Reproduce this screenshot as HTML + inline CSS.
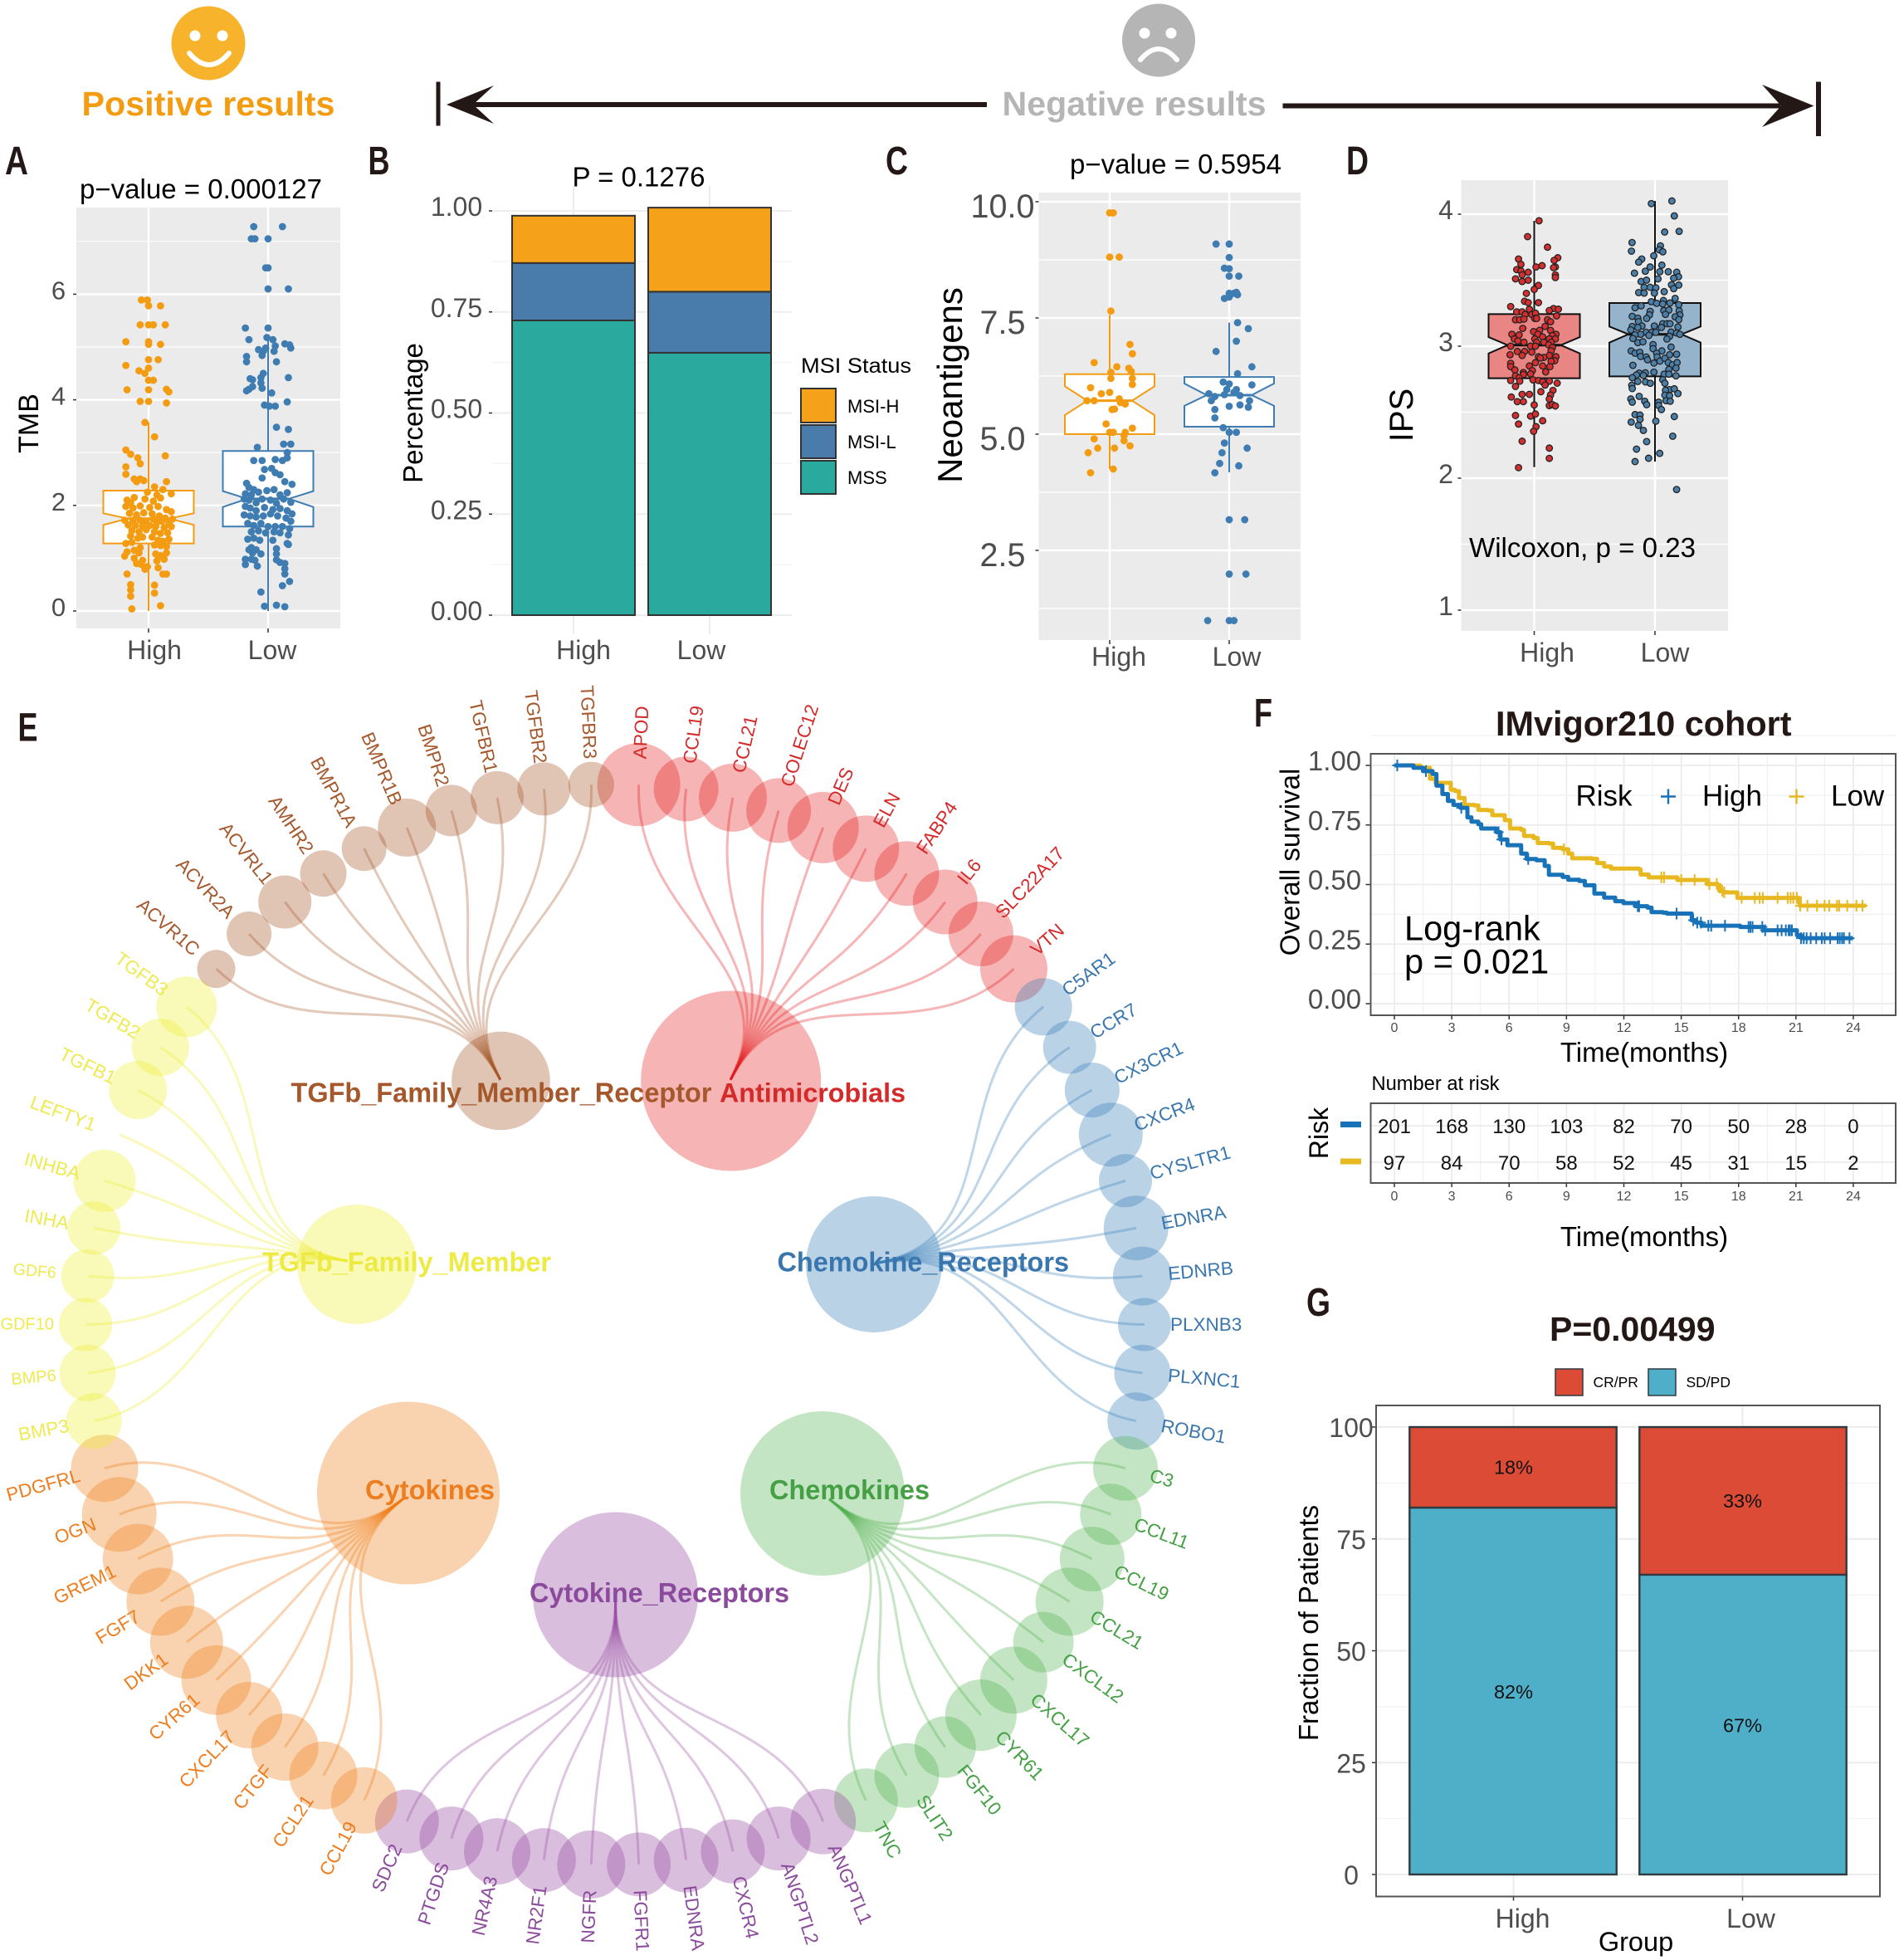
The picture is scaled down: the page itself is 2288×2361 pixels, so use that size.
<!DOCTYPE html>
<html lang="en"><head><meta charset="utf-8"><title>Multi-panel immunotherapy figure</title>
<style>
html,body{margin:0;padding:0;background:#fff}
svg{display:block}
text{font-family:"Liberation Sans",Arial,sans-serif}
</style></head>
<body>
<svg id="fig" xmlns="http://www.w3.org/2000/svg" width="2288" height="2361" viewBox="0 0 2288 2361">
<rect x="0" y="0" width="2288" height="2361" fill="#fff"/>

<g>
<g>
<circle cx="251" cy="52" r="44.5" fill="#f7b32b"/><circle cx="235" cy="43" r="6.5" fill="#fff"/><circle cx="268" cy="43" r="6.5" fill="#fff"/>
<path d="M228 64Q252 92 276 64" fill="none" stroke="#fff" stroke-width="6" stroke-linecap="round"/></g>
<text x="98.5" y="139" font-size="41" font-weight="700" fill="#f39c12" textLength="305" lengthAdjust="spacingAndGlyphs">Positive results</text>
<g>
<circle cx="1396" cy="48.5" r="44" fill="#b5b5b5"/><circle cx="1379" cy="40" r="6.5" fill="#fff"/><circle cx="1411" cy="40" r="6.5" fill="#fff"/>
<path d="M1374 72Q1396 46 1418 72" fill="none" stroke="#fff" stroke-width="6" stroke-linecap="round"/></g>
<text x="1207.5" y="139" font-size="41" font-weight="700" fill="#b5b5b5" textLength="318" lengthAdjust="spacingAndGlyphs">Negative results</text>
<g fill="#231815">
<rect x="525.5" y="98.5" width="5" height="53"/><rect x="565" y="123" width="624" height="6"/><path d="M538 126L595 103L570 126L595 149Z"/></g>
<g fill="#231815">
<rect x="2188" y="98.5" width="6" height="65.5"/><rect x="1545.5" y="124.5" width="600" height="6"/><path d="M2185.5 127.5L2123 102L2146 127.5L2123 153Z"/></g>
</g>

<g font-weight="700" fill="#231815" font-size="48">
<text x="6" y="210" textLength="28" lengthAdjust="spacingAndGlyphs">A</text>
<text x="443.5" y="210" textLength="26" lengthAdjust="spacingAndGlyphs">B</text>
<text x="1067" y="210" textLength="27" lengthAdjust="spacingAndGlyphs">C</text>
<text x="1622" y="210" textLength="27" lengthAdjust="spacingAndGlyphs">D</text>
<text x="21.5" y="892.5" textLength="24" lengthAdjust="spacingAndGlyphs">E</text>
<text x="1511" y="875" textLength="22" lengthAdjust="spacingAndGlyphs">F</text>
<text x="1574" y="1585" textLength="29" lengthAdjust="spacingAndGlyphs">G</text>
</g>

<g id="panelA"></g>
<g id="panelB"></g>
<g id="panelC"></g>
<g id="panelD"></g>
<g id="panelE"></g>
<g id="panelF"></g>
<g id="panelG"></g>

<g id="labels" fill="#000">
<text x="96" y="239" font-size="33" textLength="292" lengthAdjust="spacingAndGlyphs">p−value = 0.000127</text>
<text transform="translate(46,510) rotate(-90)" text-anchor="middle" font-size="34">TMB</text>
<text x="689.5" y="224.5" font-size="33" textLength="160" lengthAdjust="spacingAndGlyphs">P = 0.1276</text>
<text transform="translate(509,497.5) rotate(-90)" text-anchor="middle" font-size="33">Percentage</text>
<text x="965" y="449" font-size="25" textLength="133" lengthAdjust="spacingAndGlyphs">MSI Status</text>
<rect x="965" y="468" width="42" height="41" fill="#f5a11a" stroke="#333" stroke-width="2"/>
<rect x="965" y="512" width="42" height="40" fill="#4a7cab" stroke="#333" stroke-width="2"/>
<rect x="965" y="555" width="42" height="40" fill="#2aa99f" stroke="#333" stroke-width="2"/>
<text x="1021" y="497" font-size="22">MSI-H</text>
<text x="1021" y="540" font-size="22">MSI-L</text>
<text x="1021" y="583" font-size="22">MSS</text>
<text x="1289" y="209" font-size="33" textLength="255" lengthAdjust="spacingAndGlyphs">p−value = 0.5954</text>
<text transform="translate(1159,464) rotate(-90)" text-anchor="middle" font-size="42">Neoantigens</text>
<text transform="translate(1702,500) rotate(-90)" text-anchor="middle" font-size="40">IPS</text>
<text x="1770" y="671" font-size="33" textLength="273" lengthAdjust="spacingAndGlyphs">Wilcoxon, p = 0.23</text>

<text x="1802" y="886" font-size="41.4" font-weight="700" fill="#231815">IMvigor210 cohort</text>
<text transform="translate(1565.5,1038.5) rotate(-90)" text-anchor="middle" font-size="33">Overall survival</text>
<text x="1981" y="1279" text-anchor="middle" font-size="33">Time(months)</text>
<text x="1898.5" y="970.5" font-size="35">Risk</text>
<text x="2051" y="970.5" font-size="35">High</text>
<text x="2206" y="970.5" font-size="35">Low</text>
<text x="1692" y="1132.5" font-size="41.5">Log-rank</text>
<text x="1692" y="1172.5" font-size="41.5">p = 0.021</text>
<text x="1652.5" y="1313" font-size="23.7">Number at risk</text>
<text transform="translate(1600,1365) rotate(-90)" text-anchor="middle" font-size="32">Risk</text>
<text x="1981" y="1501" text-anchor="middle" font-size="33">Time(months)</text>

<text x="1867" y="1615" font-size="41" font-weight="700" fill="#231815">P=0.00499</text>
<text x="1919.5" y="1671" font-size="17.5">CR/PR</text>
<text x="2031.5" y="1671" font-size="17.5">SD/PD</text>
<rect x="1874" y="1649" width="33" height="32" fill="#dc4b36" stroke="#2f3b40" stroke-width="1.5"/>
<rect x="1986" y="1649" width="33" height="32" fill="#4fafc9" stroke="#2f3b40" stroke-width="1.5"/>
<text transform="translate(1588,1955) rotate(-90)" text-anchor="middle" font-size="33">Fraction of Patients</text>
<text x="1971" y="2350" text-anchor="middle" font-size="32.5">Group</text>
</g>

<g id="hubLabels" font-weight="700">
<text x="350.5" y="1327.5" font-size="33" fill="#a5582c" textLength="507" lengthAdjust="spacingAndGlyphs">TGFb_Family_Member_Receptor</text>
<text x="867" y="1327.5" font-size="32" fill="#d42a2a" textLength="224" lengthAdjust="spacingAndGlyphs">Antimicrobials</text>
<text x="316" y="1531.5" font-size="33" fill="#eeea44" textLength="348" lengthAdjust="spacingAndGlyphs">TGFb_Family_Member</text>
<text x="936.5" y="1531.5" font-size="33" fill="#3a76ae" textLength="351.5" lengthAdjust="spacingAndGlyphs">Chemokine_Receptors</text>
<text x="440" y="1806" font-size="33" fill="#ed7d1f" textLength="156" lengthAdjust="spacingAndGlyphs">Cytokines</text>
<text x="927" y="1806" font-size="33" fill="#45a045" textLength="193" lengthAdjust="spacingAndGlyphs">Chemokines</text>
<text x="638" y="1930" font-size="33" fill="#8b4a9c" textLength="313" lengthAdjust="spacingAndGlyphs">Cytokine_Receptors</text>
</g>
</svg>

<script>
/* ===== Panel A data: [jitter, TMB] ===== */
const tmbTicks=[0,2,4,6];
const tmbMinor=[1,3,5,7];
const tmbHighBox=[0,1.28,1.63,1.75,1.85,2.28,3.57];
const tmbLowBox=[0,1.6,1.97,2.125,2.27,3.03,5.16];
const tmbHigh=[[-.06,5.89],[-.01,5.89],[0,5.78],[.1,5.78],[-.07,5.42],[0,5.42],[.04,5.42],[.14,5.42],[-.19,5.1],[0,5.1],[0,5.05],[.1,5.05],[0,4.76],[.08,4.76],[-.19,4.65],[0,4.6],[-.08,4.55],[-.03,4.5],[0,4.37],[.04,4.37],[-.18,4.19],[0,4.19],[.15,4.2],[.17,4.15],[-.07,3.97],[0,3.97],[.15,3.94],[-.03,3.57],[.05,3.3],[-.19,3.05],[-.15,2.97],[-.09,2.9],[-.07,2.79],[.14,2.94],[-.19,2.73],[-.19,2.59],[-.12,2.5],[-.07,2.5],[-.1,2.45],[-.04,2.47],[.15,2.45],[.05,2.35],[.12,2.3],[-.01,2.25],[.07,2.2],[.19,2.22],[-.12,2.15],[-.18,2.1],[-.15,2.05],[-.03,2.12],[.04,2.08],[.1,2.14],[-.19,1.98],[-.13,1.95],[-.07,1.99],[.01,1.96],[.08,1.98],[.15,1.92],[.19,1.88],[-.16,1.85],[-.1,1.82],[-.04,1.86],[.03,1.84],[.09,1.8],[.14,1.76],[.2,1.74],[-.2,1.72],[-.13,1.72],[-.07,1.72],[-.02,1.7],[.04,1.74],[.07,1.68],[.11,1.7],[.17,1.66],[-.17,1.63],[-.11,1.62],[-.05,1.6],[.01,1.62],[.06,1.6],[.13,1.58],[.19,1.6],[-.14,1.52],[-.08,1.5],[-.02,1.54],[.05,1.5],[.1,1.47],[.16,1.48],[-.15,1.42],[-.09,1.38],[-.05,1.4],[.03,1.4],[.08,1.34],[.12,1.32],[.17,1.36],[-.19,1.28],[-.14,1.3],[-.07,1.2],[.05,1.25],[.1,1.24],[.15,1.22],[-.18,1.12],[-.12,1.15],[-.08,1.1],[.06,1.08],[.1,1.05],[.15,1.1],[-.2,1.04],[-.12,1.0],[-.05,.96],[.07,.95],[.13,.98],[-.1,.9],[-.06,.88],[-.01,.84],[-.03,.79],[.08,.82],[-.18,.7],[.12,.7],[.15,.7],[-.15,.5],[-.15,.4],[-.15,.28],[.05,.49],[.05,.34],[.1,.1],[-.14,.04]];
const tmbLow=[[-.12,7.28],[.12,7.28],[-.14,7.05],[-.11,7.05],[0,7.05],[-.02,6.5],[0,6.5],[0,6.1],[.17,6.1],[-.19,5.36],[0,5.36],[-.16,5.14],[-.01,5.18],[.04,5.14],[.14,5.06],[.18,5.04],[.19,4.98],[.06,5.02],[-.08,4.95],[-.04,4.92],[-.02,4.98],[.05,4.92],[-.18,4.82],[-.18,4.72],[.07,4.72],[-.05,4.84],[-.04,4.5],[-.06,4.42],[-.15,4.4],[-.13,4.38],[-.06,4.32],[.17,4.42],[-.16,4.2],[-.18,4.17],[-.13,4.25],[-.05,4.22],[.03,4.13],[-.03,3.9],[.01,3.88],[.06,3.88],[.16,3.96],[.07,3.48],[.17,3.44],[-.09,3.1],[.13,3.16],[.19,3.16],[.16,3.0],[-.12,2.85],[-.05,2.85],[.06,2.87],[.12,2.85],[.16,2.9],[-.03,2.68],[.03,2.7],[.06,2.62],[.1,2.58],[-.05,2.52],[.14,2.45],[.2,2.4],[-.18,2.42],[-.16,2.34],[-.12,2.3],[-.19,2.22],[-.14,2.2],[-.08,2.25],[-.01,2.28],[.05,2.3],[.1,2.2],[.16,2.24],[-.2,2.12],[-.16,2.1],[-.1,2.05],[-.05,2.12],[.02,2.1],[.07,2.04],[.13,2.12],[.19,2.06],[-.19,1.98],[-.15,1.95],[-.1,1.9],[-.03,1.96],[.04,1.92],[.1,1.94],[.16,1.9],[.2,1.84],[-.2,1.82],[-.15,1.8],[-.1,1.78],[-.04,1.8],[.02,1.84],[.08,1.8],[.15,1.76],[.19,1.7],[-.17,1.66],[-.12,1.62],[-.06,1.66],[0,1.6],[.06,1.6],[.12,1.6],[.18,1.56],[-.14,1.5],[-.08,1.52],[-.02,1.48],[.05,1.5],[.1,1.48],[.17,1.44],[-.17,1.36],[-.12,1.38],[-.07,1.34],[.04,1.34],[.16,1.28],[.17,1.26],[-.14,1.2],[-.16,1.16],[-.1,1.16],[-.13,1.1],[-.06,1.08],[.07,1.18],[.07,1.08],[-.19,.98],[-.14,.98],[-.11,.96],[.07,.97],[.1,.92],[.14,.9],[-.19,.88],[-.09,.85],[.14,.8],[.14,.7],[.18,.56],[.12,.48],[-.06,.36],[-.03,.09],[.07,.11],[.14,.08]];

/* ===== Panel B data ===== */
const msiGroups=['High','Low'];
const msiTicks=[0,.25,.5,.75,1];
const msiTickLabels=['0.00','0.25','0.50','0.75','1.00'];
const msiMinor=[.125,.375,.625,.875];
const msiMss=[.729,.649];
const msiL=[.142,.151];
const msiH=[.117,.208];

/* ===== Panel C data: [jitter, neoantigens] ===== */
const neoTicks=[2.5,5,7.5,10];
const neoTickLabels=['2.5','5.0','7.5','10.0'];
const neoMinor=[1.25,3.75,6.25,8.75];
const neoHighBox=[4.25,5.0,5.41,5.72,6.03,6.29,7.57];
const neoLowBox=[4.18,5.16,5.61,5.84,6.09,6.23,7.4];
const neoHigh=[[0,9.76],[.03,9.76],[0,8.81],[.08,8.81],[.01,7.65],[.17,6.93],[.19,6.73],[-.13,6.54],[.06,6.45],[.16,6.42],[.18,6.35],[.01,6.33],[.01,6.2],[.19,6.2],[.19,6.07],[-.16,6.0],[0,5.9],[-.07,5.87],[.08,5.76],[-.19,5.72],[-.13,5.72],[.09,5.68],[.13,5.65],[.02,5.53],[.04,5.54],[-.03,5.22],[.19,5.13],[0,5.04],[.03,5.04],[.13,5.04],[.12,4.97],[-.13,4.9],[.12,4.86],[.17,4.75],[-.1,4.7],[.04,4.7],[-.18,4.6],[.03,4.25],[-.16,4.17]];
const neoLow=[[-.11,9.09],[0,9.09],[0,8.8],[-.04,8.57],[0,8.56],[0,8.4],[.08,8.4],[.06,8.05],[0,8.03],[.04,8.03],[.07,8.0],[-.04,7.92],[0,7.95],[.07,7.4],[.16,7.27],[.06,7.0],[-.11,6.78],[.19,6.45],[.07,6.3],[-.05,6.12],[0,6.08],[.19,6.06],[-.02,5.96],[.06,5.96],[.04,5.9],[-.17,5.87],[-.04,5.85],[.09,5.83],[-.12,5.81],[-.15,5.72],[.17,5.72],[0,5.6],[.09,5.63],[.16,5.58],[-.12,5.53],[-.12,5.35],[-.05,5.14],[0,5.04],[.06,5.04],[-.04,4.81],[.15,4.7],[-.06,4.6],[-.08,4.37],[.08,4.32],[-.12,4.17],[0,3.16],[.13,3.16],[0,1.99],[.14,1.99],[-.18,.99],[0,.99],[.04,.99]];

/* ===== Panel D data: [jitter, IPS] ===== */
const ipsTicks=[1,2,3,4];
const ipsMinor=[1.5,2.5,3.5];
const ipsHighBox=[2.084,2.757,2.945,3.008,3.069,3.243,3.95];
const ipsLowBox=[2.126,2.771,3.027,3.09,3.149,3.327,4.1];
const ipsHigh=[[.04,3.95],[-.055,3.83],[.11,3.75],[-.13,3.66],[.195,3.67],[.165,3.65],[-.11,3.62],[.015,3.6],[.065,3.61],[-.145,3.58],[-.11,3.57],[.175,3.6],[.16,3.595],[-.05,3.56],[-.1,3.54],[.175,3.54],[.175,3.52],[-.155,3.51],[-.1,3.49],[-.05,3.5],[.035,3.46],[0,3.43],[-.065,3.4],[-.08,3.34],[-.05,3.33],[.035,3.33],[-.195,3.3],[-.04,3.28],[.16,3.285],[.2,3.28],[.125,3.27],[-.145,3.26],[-.1,3.26],[-.02,3.24],[.01,3.25],[-.075,3.24],[.185,3.23],[-.155,3.2],[-.12,3.2],[-.085,3.205],[.005,3.21],[.02,3.21],[.11,3.2],[.135,3.185],[.09,3.15],[-.095,3.135],[.135,3.12],[.045,3.12],[-.005,3.11],[.03,3.09],[.18,3.09],[-.185,3.09],[-.125,3.085],[.07,3.07],[.15,3.08],[.005,3.055],[.125,3.055],[.175,3.055],[-.165,3.055],[-.135,3.04],[-.085,3.03],[.02,3.03],[.08,3.03],[.14,3.03],[-.195,3],[-.03,3],[.01,3],[.12,3.01],[.15,2.99],[-.14,2.96],[-.08,2.96],[-.02,2.955],[.14,2.965],[-.2,2.935],[-.1,2.93],[.125,2.93],[.035,2.92],[.08,2.915],[.05,2.91],[.18,2.92],[.17,2.89],[.01,2.875],[.14,2.885],[-.195,2.87],[-.195,2.845],[-.04,2.85],[.07,2.85],[.13,2.845],[-.16,2.82],[-.015,2.815],[.095,2.805],[-.09,2.8],[-.03,2.79],[-.155,2.775],[-.09,2.785],[-.125,2.76],[-.195,2.74],[-.01,2.745],[.035,2.74],[.07,2.73],[.125,2.735],[-.12,2.735],[.09,2.705],[.19,2.72],[-.155,2.695],[.155,2.665],[.055,2.655],[-.1,2.635],[-.04,2.635],[-.19,2.615],[.135,2.63],[.125,2.6],[-.14,2.58],[-.09,2.58],[.125,2.55],[0,2.555],[.15,2.557],[.175,2.547],[-.155,2.475],[-.03,2.47],[.01,2.486],[.07,2.435],[-.13,2.41],[.015,2.39],[-.005,2.355],[-.1,2.28],[.125,2.228],[.125,2.15],[-.13,2.08]];
const ipsLow=[[-.03,4.08],[.14,4.1],[.16,3.987],[.08,3.865],[.2,3.87],[-.19,3.785],[-.195,3.72],[.045,3.76],[.035,3.73],[.065,3.715],[-.01,3.685],[-.11,3.66],[-.135,3.637],[.057,3.614],[-.04,3.6],[-.08,3.568],[-.17,3.553],[.04,3.564],[.11,3.564],[.18,3.56],[.195,3.526],[.155,3.515],[.025,3.51],[-.115,3.49],[-.07,3.5],[.137,3.465],[.197,3.463],[-.09,3.446],[-.04,3.446],[.007,3.442],[.155,3.436],[.076,3.413],[-.135,3.406],[-.09,3.402],[-.005,3.402],[.167,3.362],[.07,3.346],[-.03,3.337],[.014,3.325],[.064,3.32],[.124,3.327],[.197,3.314],[-.115,3.306],[-.165,3.291],[.2,3.268],[.073,3.27],[.115,3.274],[-.04,3.264],[-.046,3.237],[.087,3.241],[.206,3.237],[-.188,3.226],[.167,3.222],[.197,3.201],[-.142,3.212],[-.069,3.21],[-.137,3.186],[.064,3.17],[.1,3.17],[.124,3.17],[-.005,3.153],[-.108,3.153],[-.188,3.149],[.19,3.145],[-.142,3.142],[-.2,3.123],[.053,3.142],[-.073,3.105],[-.027,3.105],[.007,3.105],[.133,3.107],[.179,3.1],[.206,3.09],[-.119,3.09],[-.05,3.082],[-.165,3.086],[.121,3.075],[-.183,3.058],[.099,3.054],[-.142,3.027],[-.1,3.033],[-.016,3.012],[.133,2.993],[-.016,2.981],[-.197,2.964],[-.165,2.947],[-.126,2.954],[.057,2.964],[.014,2.947],[-.119,2.922],[-.073,2.918],[.018,2.918],[.179,2.939],[.121,2.935],[-.062,2.897],[.041,2.887],[.082,2.908],[.11,2.876],[-.009,2.872],[-.183,2.855],[.144,2.859],[.183,2.876],[.174,2.834],[.115,2.824],[-.009,2.803],[-.131,2.796],[-.08,2.798],[-.153,2.782],[-.096,2.778],[.076,2.788],[.115,2.788],[-.188,2.761],[.174,2.775],[.064,2.746],[-.142,2.733],[-.078,2.729],[-.039,2.719],[.082,2.719],[-.192,2.704],[-.188,2.679],[.121,2.671],[.16,2.677],[.087,2.666],[.19,2.641],[.082,2.629],[.121,2.625],[-.131,2.62],[-.2,2.6],[-.188,2.576],[-.085,2.583],[.092,2.587],[.126,2.583],[.03,2.576],[-.069,2.557],[.03,2.551],[.053,2.52],[-.165,2.482],[-.124,2.478],[.16,2.467],[-.124,2.446],[-.197,2.425],[.007,2.432],[-.137,2.4],[-.096,2.362],[.147,2.318],[-.069,2.277],[-.153,2.22],[.039,2.188],[-.053,2.151],[-.165,2.126],[.179,1.914]];

/* ===== Panel E data: leaf sizes and names per module ===== */
const moduleNames=['Antimicrobials','Chemokine_Receptors','Chemokines','Cytokine_Receptors','Cytokines','TGFb_Family_Member','TGFb_Family_Member_Receptor'];
const redGenes=['APOD','CCL19','CCL21','COLEC12','DES','ELN','FABP4','IL6','SLC22A17','VTN'];
const redSizes=[50,39,41,39,43,40,39,39,39,40.5];
const blueGenes=['C5AR1','CCR7','CX3CR1','CXCR4','CYSLTR1','EDNRA','EDNRB','PLXNB3','PLXNC1','ROBO1'];
const blueSizes=[34.5,32,33,38.5,32,39,35.5,32,34,34.5];
const greenGenes=['C3','CCL11','CCL19','CCL21','CXCL12','CXCL17','CYR61','FGF10','SLIT2','TNC'];
const greenSizes=[39,37,39,41,36.5,40.5,43,37,39,38.5];
const purpleGenes=['ANGPTL1','ANGPTL2','CXCR4','EDNRA','FGFR1','NGFR','NR2F1','NR4A3','PTGDS','SDC2'];
const purpleSizes=[39.5,38.5,38.5,39,38.5,41,38.5,40,38.5,38.5];
const orangeGenes=['CCL19','CCL21','CTGF','CXCL17','CYR61','DKK1','FGF7','GREM1','OGN','PDGFRL'];
const orangeSizes=[40,41,40.5,40,42,44,41,42.5,45,40.5];
const yellowGenes=['BMP3','BMP6','GDF10','GDF6','INHA','INHBA','LEFTY1','TGFB1','TGFB2','TGFB3'];
const yellowSizes=[33.5,34,32,32,32,37.5,0,35,34.5,36.5];
const brownGenes=['ACVR1C','ACVR2A','ACVRL1','AMHR2','BMPR1A','BMPR1B','BMPR2','TGFBR1','TGFBR2','TGFBR3'];
const brownSizes=[23,27,32,28,27,35,31,32,32,27.5];
const hubSizes=[108.5,82,99,99.5,110,72,59.3];

/* ===== Panel F data ===== */
const kmTicksX=[0,3,6,9,12,15,18,21,24];
const kmTicksY=[0,.25,.5,.75,1];
const kmTickLabelsY=['0.00','0.25','0.50','0.75','1.00'];
const kmHighTime=[0,1,1.5,2,2.2,2.51,2.8,3.09,3.45,3.82,4.03,4.39,4.54,5.33,5.55,5.91,6.63,6.92,7.43,7.86,8.08,8.8,9.09,9.67,9.96,10.46,10.97,11.55,11.98,12.6,13.24,13.45,14.04,14.25,15.55,15.77,16.06,18.08,19.3,21.05,21.27,23.98];
const kmHighSurv=[1,.99,.976,.964,.915,.88,.851,.834,.822,.782,.764,.753,.735,.72,.689,.665,.63,.607,.602,.578,.541,.532,.52,.515,.497,.462,.445,.43,.422,.409,.403,.384,.382,.378,.35,.34,.327,.322,.308,.287,.275,.275];
const kmLowTime=[0,1,1.36,1.86,2.15,2.95,3.17,3.38,3.67,4.18,4.39,4.9,5.12,5.77,6.05,6.63,6.78,7.28,7.5,8.08,8.3,8.8,9.09,9.3,10.32,10.6,10.97,11.33,12.8,12.88,13.3,14.8,16.35,16.9,17,17.2,17.94,21.2,24.67];
const kmLowSurv=[1,.999,.99,.944,.927,.898,.892,.863,.834,.832,.813,.811,.791,.77,.735,.729,.704,.695,.674,.672,.654,.648,.63,.61,.608,.59,.576,.567,.563,.542,.53,.519,.502,.496,.473,.467,.444,.411,.411];
const kmHighCensor=[.15,1.65,3.5,5.45,5.6,7,12.73,12.8,14.76,15.63,15.84,16.03,16.42,16.57,17.29,18.52,18.62,18.73,19.24,19.39,20.04,20.25,20.47,20.62,20.69,20.79,21.27,21.41,21.56,21.77,22.06,22.35,22.5,22.79,23.18,23.29,23.41,23.51,23.8];
const kmLowCensor=[8.87,13.96,14.1,15,15.7,16.47,16.86,17.15,17.25,18.16,18.85,19.1,19.27,20.04,20.57,20.72,20.86,21.05,21.22,21.6,22.1,22.5,22.74,23.15,23.26,23.68,24.16,24.48];
const riskHigh=[201,168,130,103,82,70,50,28,0];
const riskLow=[97,84,70,58,52,45,31,15,2];

/* ===== Panel G data ===== */
const respGroups=['High','Low'];
const respSdPd=[82,67];
const respCrPr=[18,33];
const respTicks=[0,25,50,75,100];
const respMinor=[12.5,37.5,62.5,87.5];

/* ===== helpers ===== */
const NS='http://www.w3.org/2000/svg';
function add(parent,tag,name,attrs,txt){
  const el=document.createElementNS(NS,tag);
  
  
  for(const k in attrs)el.setAttribute(k,attrs[k]);
  if(txt!==undefined)el.textContent=txt;
  parent.appendChild(el);
  return el;
}
const GRAY='#4d4d4d';

/* ===== Boxplot panels ===== */
function boxPlot(cfg){
  const g=document.getElementById(cfg.id);
  const xs=i=>cfg.x0+cfg.xu*i;
  add(g,'rect','plot-background',{x:cfg.l,y:cfg.t,width:cfg.r-cfg.l,height:cfg.b-cfg.t,fill:'#ebebeb'});
  cfg.minor.forEach(v=>add(g,'line','minor-gridline',{x1:cfg.l,x2:cfg.r,y1:cfg.y(v),y2:cfg.y(v),stroke:'#fff','stroke-width':1.2}));
  cfg.ticks.forEach(v=>add(g,'line','major-gridline',{x1:cfg.l,x2:cfg.r,y1:cfg.y(v),y2:cfg.y(v),stroke:'#fff','stroke-width':2.4}));
  ['High','Low'].forEach((c,i)=>add(g,'line','vertical-gridline',{x1:xs(i),x2:xs(i),y1:cfg.t,y2:cfg.b,stroke:'#fff','stroke-width':2.4}));
  cfg.ticks.forEach((v,i)=>{
    add(g,'line','y-tick',{x1:cfg.l-4,x2:cfg.l,y1:cfg.y(v),y2:cfg.y(v),stroke:'#333','stroke-width':1.5});
    add(g,'text','y-tick-label',{x:cfg.tx,y:cfg.y(v)+cfg.tdy,'text-anchor':'middle','font-size':cfg.tfs,fill:GRAY},cfg.labels?cfg.labels[i]:String(v));
  });
  ['High','Low'].forEach((c,i)=>{
    add(g,'line','x-tick',{x1:xs(i),x2:xs(i),y1:cfg.b,y2:cfg.b+5,stroke:'#333','stroke-width':1.5});
    add(g,'text','x-tick-label',{x:cfg.lx[i],y:cfg.ly,'text-anchor':'middle','font-size':32,fill:GRAY},c);
  });
  cfg.series.forEach((s,i)=>{
    const x=xs(i),h=cfg.h,n=cfg.n,st=s.box,y=cfg.y;
    add(g,'line','whisker-'+s.key,{x1:x,x2:x,y1:y(st[0]),y2:y(st[6]),stroke:s.stroke,'stroke-width':2});
    const d=`M${x-h} ${y(st[5])}L${x+h} ${y(st[5])}L${x+h} ${y(st[4])}L${x+n} ${y(st[3])}L${x+h} ${y(st[2])}L${x+h} ${y(st[1])}L${x-h} ${y(st[1])}L${x-h} ${y(st[2])}L${x-n} ${y(st[3])}L${x-h} ${y(st[4])}Z`;
    add(g,'path','box-'+s.key,{d,fill:s.fill,stroke:s.stroke,'stroke-width':2});
    add(g,'line','median-'+s.key,{x1:x-n,x2:x+n,y1:y(st[3]),y2:y(st[3]),stroke:s.stroke,'stroke-width':3});
    s.pts.forEach(p=>add(g,'circle','point-'+s.key,{cx:x+p[0]*cfg.xu,cy:y(p[1]),r:cfg.pr,fill:s.dot,stroke:cfg.edge||'none','stroke-width':cfg.edge?1.3:0}));
  });
}
boxPlot({id:'panelA',l:92,r:410,t:250,b:757,x0:179,xu:144,y:v=>736-63.6*v,ticks:tmbTicks,minor:tmbMinor,tx:70.5,tdy:6,tfs:31,lx:[186,328],ly:794,h:54.5,n:25,pr:4.4,
  series:[{key:'high',box:tmbHighBox,pts:tmbHigh,stroke:'#f39c12',fill:'#fff',dot:'#f39c12'},{key:'low',box:tmbLowBox,pts:tmbLow,stroke:'#3e7cb1',fill:'#fff',dot:'#3e7cb1'}]});
boxPlot({id:'panelC',l:1251.5,r:1567,t:232,b:771,x0:1337,xu:144,y:v=>663-(v-2.5)*56,ticks:neoTicks,labels:neoTickLabels,minor:neoMinor,tx:1208,tdy:19,tfs:39.5,lx:[1348,1490],ly:802,h:54,n:27,pr:4.4,
  series:[{key:'high',box:neoHighBox,pts:neoHigh,stroke:'#f39c12',fill:'#fff',dot:'#f39c12'},{key:'low',box:neoLowBox,pts:neoLow,stroke:'#3e7cb1',fill:'#fff',dot:'#3e7cb1'}]});
boxPlot({id:'panelD',l:1760.5,r:2082,t:217,b:760,x0:1848.5,xu:145.5,y:v=>735-(v-1)*159,ticks:ipsTicks,minor:ipsMinor,tx:1742,tdy:6,tfs:32,lx:[1864,2006],ly:797,h:55,n:32,pr:3.8,edge:'#222',
  series:[{key:'high',box:ipsHighBox,pts:ipsHigh,stroke:'#111',fill:'#e98683',dot:'#d62f30'},{key:'low',box:ipsLowBox,pts:ipsLow,stroke:'#111',fill:'#96b3cc',dot:'#4a7fa9'}]});

/* ===== Panel B ===== */
(function(){
  const g=document.getElementById('panelB');
  const y=v=>741-487*v, cx=[691,855], hw=74;
  msiMinor.forEach(v=>add(g,'line','minor-gridline',{x1:593,x2:954,y1:y(v),y2:y(v),stroke:'#f3f3f3','stroke-width':1.2}));
  msiTicks.forEach(v=>add(g,'line','major-gridline',{x1:593,x2:954,y1:y(v),y2:y(v),stroke:'#ededed','stroke-width':2}));
  cx.forEach(x=>add(g,'line','vertical-gridline',{x1:x,x2:x,y1:224,y2:764,stroke:'#ededed','stroke-width':2}));
  msiTicks.forEach((v,i)=>{
    add(g,'line','y-tick',{x1:589,x2:593,y1:y(v),y2:y(v),stroke:'#333','stroke-width':1.5});
    add(g,'text','y-tick-label',{x:550,y:y(v)+6,'text-anchor':'middle','font-size':32,fill:GRAY},msiTickLabels[i]);
  });
  msiGroups.forEach((c,i)=>{
    add(g,'text','x-tick-label',{x:[703,845][i],y:794,'text-anchor':'middle','font-size':32,fill:GRAY},c);
    let base=0;
    [[msiMss,'#2aa99f','mss'],[msiL,'#4a7cab','msi-l'],[msiH,'#f5a11a','msi-h']].forEach(s=>{
      const v=s[0][i];
      add(g,'rect','bar-'+c.toLowerCase()+'-'+s[2],{x:cx[i]-hw,y:y(base+v),width:hw*2,height:y(base)-y(base+v),fill:s[1],stroke:'#333','stroke-width':2});
      base+=v;
    });
  });
})();

/* ===== Panel E ===== */
(function(){
  const g=document.getElementById('panelE');
  const cx=741,cy=1595.5,rx=638,ry=651,hubR=330,midR=487,n=70,step=360/n;
  const mods=[
    {genes:redGenes,sizes:redSizes,rgb:'#e31a1c',a:.33,txt:'#d42a2a',off:[-3.5,-.7],tip:[-4,-2]},
    {genes:blueGenes,sizes:blueSizes,rgb:'#377eb8',a:.35,txt:'#3a76ae',off:[-9.8,-3.6],tip:[-7,-5]},
    {genes:greenGenes,sizes:greenSizes,rgb:'#4daf4a',a:.33,txt:'#45a045',off:[-8,-6.7],tip:[0,0]},
    {genes:purpleGenes,sizes:purpleSizes,rgb:'#984ea3',a:.37,txt:'#8b4a9c',off:[.5,-9],tip:[.6,0]},
    {genes:orangeGenes,sizes:orangeSizes,rgb:'#ee7a10',a:.33,txt:'#ed7d1f',off:[9,-7.2],tip:[5,-2]},
    {genes:yellowGenes,sizes:yellowSizes,rgb:'#eded33',a:.35,txt:'#eeea50',off:[10.7,-3.6],tip:[-.6,-7.6]},
    {genes:brownGenes,sizes:brownSizes,rgb:'#a65628',a:.35,txt:'#a5582c',off:[5.6,-.7],tip:[5,-2]}
  ];
  const small={GDF6:19.5,GDF10:20,BMP6:20};
  const rad=d=>d*Math.PI/180;
  const gHub=add(g,'g','hub-circles',{}),gEdge=add(g,'g','network-edges',{}),gLeaf=add(g,'g','leaf-circles',{}),gLab=add(g,'g','gene-labels',{});
  mods.forEach((m,mi)=>{
    const hubTh=(mi*10+5)*step;
    const hs=Math.sin(rad(hubTh)),hc=Math.cos(rad(hubTh));
    const hx=cx+hubR*hs,hy=1600-hubR*hc;
    add(gHub,'circle','hub-'+moduleNames[mi],{cx:hx+m.off[0],cy:hy+m.off[1],r:hubSizes[mi],fill:m.rgb,'fill-opacity':m.a});
    const tx=hx+m.tip[0],ty=hy+m.tip[1];
    m.genes.forEach((gene,i)=>{
      const th=(mi*10+i+.5)*step,s=Math.sin(rad(th)),c=Math.cos(rad(th));
      const x=cx+rx*s,y=cy-ry*c;
      const p1x=cx+midR*hs,p1y=1600-midR*hc,p2x=cx+midR*s,p2y=cy-midR*c;
      add(gEdge,'path','edge-'+gene,{d:`M${tx} ${ty}C${p1x} ${p1y} ${p2x} ${p2y} ${x} ${y}`,fill:'none',stroke:m.rgb,'stroke-opacity':.32,'stroke-width':3});
      if(m.sizes[i]>0)add(gLeaf,'circle','leaf-'+gene,{cx:x,cy:y,r:m.sizes[i],fill:m.rgb,'fill-opacity':m.a});
      const gap=small[gene]?38:31;
      const lx=x+gap*s,ly=y-gap*c,right=th<180;
      add(gLab,'text','gene-label-'+gene,{transform:`translate(${lx},${ly}) rotate(${right?th-90:th+90})`,'text-anchor':right?'start':'end','dominant-baseline':'central','font-size':small[gene]||22.5,fill:m.txt},gene);
    });
  });
})();

/* ===== Panel F ===== */
(function(){
  const g=document.getElementById('panelF');
  const L=1651.5,R=2284,T=908,B=1223,T2=1329,B2=1425;
  const x=t=>1680+23.04*t,y=s=>1209-287*s;
  [[T,B],[T2,B2]].forEach(r=>{
    kmTicksX.forEach(t=>{
      add(g,'line','grid-x-major',{x1:x(t),x2:x(t),y1:r[0],y2:r[1],stroke:'#ececec','stroke-width':1.8});
      if(x(t+1.5)<R)add(g,'line','grid-x-minor',{x1:x(t+1.5),x2:x(t+1.5),y1:r[0],y2:r[1],stroke:'#f1f1f1','stroke-width':1.2});
    });
  });
  kmTicksY.forEach((s,i)=>{
    add(g,'line','grid-y-major',{x1:L,x2:R,y1:y(s),y2:y(s),stroke:'#ececec','stroke-width':1.8});
    add(g,'line','grid-y-minor',{x1:L,x2:R,y1:y(s+.125),y2:y(s+.125),stroke:'#f1f1f1','stroke-width':1.2});
    add(g,'line','y-tick',{x1:L-6,x2:L,y1:y(s),y2:y(s),stroke:'#333','stroke-width':1.5});
    add(g,'text','y-tick-label',{x:1608,y:y(s)+6,'text-anchor':'middle','font-size':33,fill:GRAY},kmTickLabelsY[i]);
  });
  [1356,1400].forEach(v=>add(g,'line','risk-grid-row',{x1:L,x2:R,y1:v,y2:v,stroke:'#ececec','stroke-width':1.8}));
  function curve(name,ts,ss,cens,color){
    let d=`M${x(ts[0])} ${y(ss[0])}`;
    for(let i=1;i<ts.length;i++)d+=`H${x(ts[i])}V${y(ss[i])}`;
    add(g,'path','km-curve-'+name,{d,fill:'none',stroke:color,'stroke-width':5,'stroke-linejoin':'round'});
    cens.forEach(t=>{
      let s=ss[0];
      for(let i=0;i<ts.length;i++)if(ts[i]<=t)s=ss[i];
      add(g,'path','censor-'+name,{d:`M${x(t)-6} ${y(s)}H${x(t)+6}M${x(t)} ${y(s)-7}V${y(s)+7}`,stroke:color,'stroke-width':2,fill:'none'});
    });
  }
  curve('low',kmLowTime,kmLowSurv,kmLowCensor,'#e7b820');
  curve('high',kmHighTime,kmHighSurv,kmHighCensor,'#1872b8');
  add(g,'rect','survival-plot-border',{x:L,y:T,width:R-L,height:B-T,fill:'none',stroke:'#555','stroke-width':2});
  add(g,'rect','risk-table-border',{x:L,y:T2,width:R-L,height:B2-T2,fill:'none',stroke:'#555','stroke-width':2});
  kmTicksX.forEach((t,i)=>{
    add(g,'line','x-tick',{x1:x(t),x2:x(t),y1:B,y2:B+5,stroke:'#333','stroke-width':1.5});
    add(g,'text','x-tick-label',{x:x(t),y:1243,'text-anchor':'middle','font-size':16,fill:GRAY},String(t));
    add(g,'line','risk-x-tick',{x1:x(t),x2:x(t),y1:B2,y2:B2+5,stroke:'#333','stroke-width':1.5});
    add(g,'text','risk-x-tick-label',{x:x(t),y:1446,'text-anchor':'middle','font-size':16,fill:GRAY},String(t));
    add(g,'text','risk-count-high',{x:x(t),y:1365,'text-anchor':'middle','font-size':24,fill:'#111'},String(riskHigh[i]));
    add(g,'text','risk-count-low',{x:x(t),y:1409,'text-anchor':'middle','font-size':24,fill:'#111'},String(riskLow[i]));
  });
  add(g,'rect','risk-swatch-high',{x:1615,y:1351,width:25,height:7,fill:'#1872b8'});
  add(g,'rect','risk-swatch-low',{x:1615,y:1395.5,width:25,height:7,fill:'#e7b820'});
  add(g,'path','legend-marker-high',{d:'M2001 959.5H2019M2010 950.5V968.5',stroke:'#1872b8','stroke-width':2.4,fill:'none'});
  add(g,'path','legend-marker-low',{d:'M2155.5 959.5H2173.5M2164.5 950.5V968.5',stroke:'#e7b820','stroke-width':2.4,fill:'none'});
})();

/* ===== Panel G ===== */
(function(){
  const g=document.getElementById('panelG');
  const L=1658,R=2265,T=1693,B=2284.5;
  const y=v=>2258-5.39*v,cx=[1823,2100],tickX=[1823.5,2099.5],hw=124.7;
  respMinor.forEach(v=>add(g,'line','minor-gridline',{x1:L,x2:R,y1:y(v),y2:y(v),stroke:'#f2f2f2','stroke-width':1.2}));
  respTicks.forEach(v=>{
    add(g,'line','major-gridline',{x1:L,x2:R,y1:y(v),y2:y(v),stroke:'#ececec','stroke-width':2});
    add(g,'line','y-tick',{x1:L-5,x2:L,y1:y(v),y2:y(v),stroke:'#333','stroke-width':1.5});
    add(g,'text','y-tick-label',{x:1628,y:y(v)+12,'text-anchor':'middle','font-size':32,fill:GRAY},String(v));
  });
  tickX.forEach(x=>add(g,'line','vertical-gridline',{x1:x,x2:x,y1:T,y2:B,stroke:'#ececec','stroke-width':2}));
  respGroups.forEach((c,i)=>{
    const sd=respSdPd[i],cr=respCrPr[i],nm=c.toLowerCase();
    add(g,'rect','bar-'+nm+'-sd-pd',{x:cx[i]-hw,y:y(sd),width:hw*2,height:y(0)-y(sd),fill:'#4fafc9',stroke:'#2f3b40','stroke-width':2.4});
    add(g,'rect','bar-'+nm+'-cr-pr',{x:cx[i]-hw,y:y(sd+cr),width:hw*2,height:y(sd)-y(sd+cr),fill:'#dc4b36',stroke:'#2f3b40','stroke-width':2.4});
    add(g,'text','value-label-'+nm+'-sd-pd',{x:tickX[i],y:y(sd/2)+1,'text-anchor':'middle','dominant-baseline':'central','font-size':23.5,fill:'#111'},sd+'%');
    add(g,'text','value-label-'+nm+'-cr-pr',{x:tickX[i],y:y(sd+cr/2),'text-anchor':'middle','dominant-baseline':'central','font-size':23.5,fill:'#111'},cr+'%');
    add(g,'line','x-tick',{x1:tickX[i],x2:tickX[i],y1:B,y2:B+5,stroke:'#333','stroke-width':1.5});
    add(g,'text','x-tick-label',{x:[1834.5,2109.5][i],y:2322,'text-anchor':'middle','font-size':32,fill:GRAY},c);
  });
  add(g,'rect','plot-border',{x:L,y:T,width:R-L,height:B-T,fill:'none',stroke:'#555','stroke-width':2});
})();
</script>
</body></html>
